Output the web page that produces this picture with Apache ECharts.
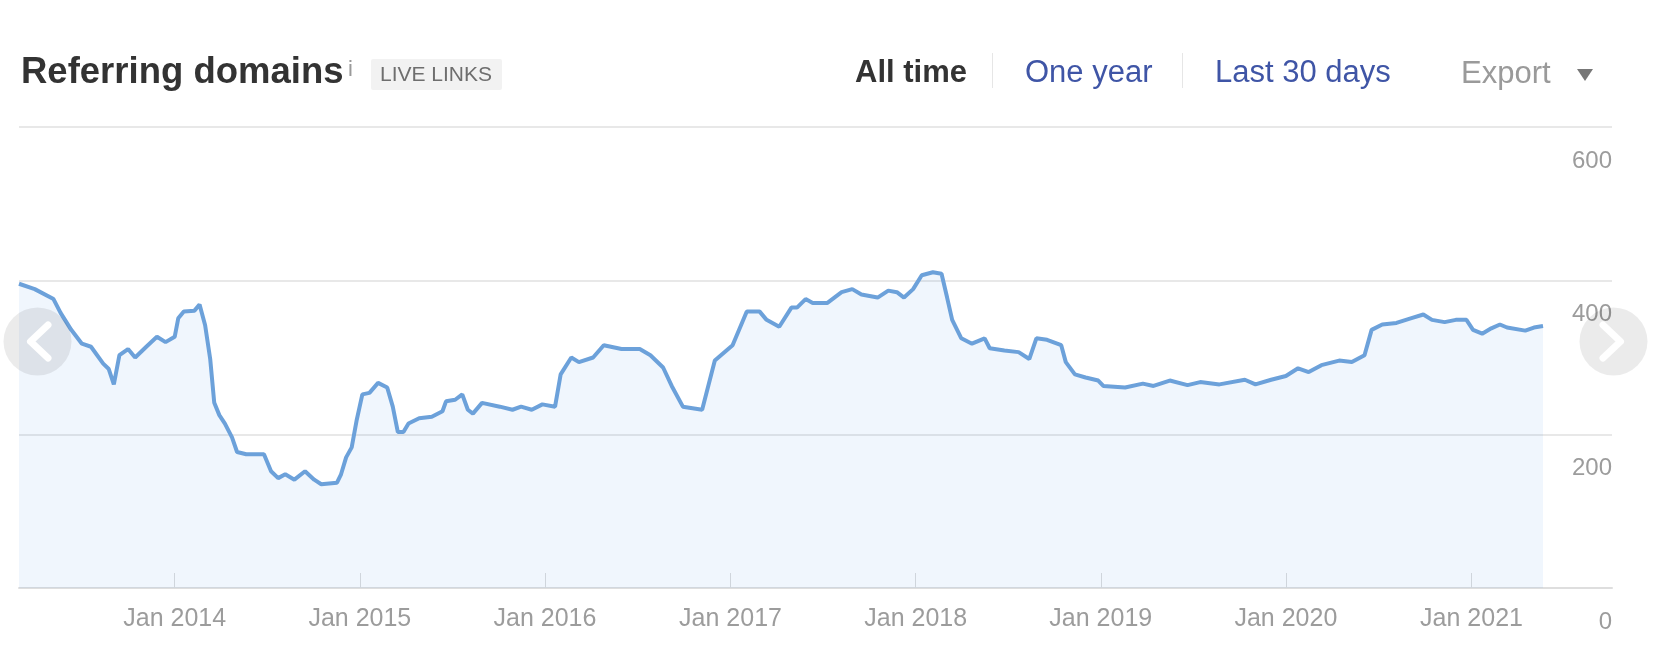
<!DOCTYPE html>
<html>
<head>
<meta charset="utf-8">
<script src="https://cdn.jsdelivr.net/npm/echarts@6/dist/echarts.min.js"></script>
<style>
html,body{margin:0;padding:0;background:#ffffff;}
#chart{width:1662px;height:666px;}
</style>
</head>
<body>
<div id="chart"></div>
<script>
// ---- data ----
const dates = [
'2013-02-28','2013-03-31','2013-05-07','2013-05-21','2013-06-11','2013-07-02','2013-07-20','2013-08-13','2013-08-24','2013-09-03',
'2013-09-14','2013-10-01','2013-10-15','2013-11-06','2013-11-27','2013-12-14','2014-01-01','2014-01-08','2014-01-19','2014-02-09',
'2014-02-19','2014-03-02','2014-03-12','2014-03-20','2014-03-30','2014-04-10','2014-04-24','2014-05-04','2014-05-22','2014-06-26',
'2014-07-10','2014-07-24','2014-08-07','2014-08-25','2014-09-15','2014-10-03','2014-10-17','2014-11-17','2014-11-25','2014-12-05',
'2014-12-16','2014-12-26','2015-01-06','2015-01-20','2015-02-06','2015-02-24','2015-03-07','2015-03-17','2015-03-28','2015-04-07',
'2015-04-28','2015-05-23','2015-06-13','2015-06-20','2015-07-08','2015-07-22','2015-08-02','2015-08-12','2015-08-30','2015-10-04',
'2015-10-29','2015-11-15','2015-12-06','2015-12-27','2016-01-21','2016-02-01','2016-02-22','2016-03-08','2016-04-05','2016-04-26',
'2016-05-31','2016-07-06','2016-07-27','2016-08-21','2016-09-07','2016-09-29','2016-11-06','2016-12-01','2017-01-05','2017-02-02',
'2017-02-27','2017-03-13','2017-04-07','2017-05-01','2017-05-12','2017-05-29','2017-06-12','2017-07-11','2017-08-08','2017-08-29',
'2017-09-16','2017-10-18','2017-11-08','2017-11-25','2017-12-09','2017-12-27','2018-01-13','2018-02-04','2018-02-21','2018-03-04',
'2018-03-14','2018-04-01','2018-04-22','2018-05-17','2018-05-27','2018-06-25','2018-07-23','2018-08-13','2018-08-27','2018-09-17',
'2018-10-15','2018-10-24','2018-11-11','2018-12-02','2018-12-27','2019-01-06','2019-02-18','2019-03-25','2019-04-15','2019-05-17',
'2019-06-21','2019-07-16','2019-08-23','2019-10-12','2019-11-02','2019-12-03','2020-01-01','2020-01-25','2020-02-15','2020-03-11',
'2020-04-15','2020-05-10','2020-06-04','2020-06-18','2020-07-09','2020-08-06','2020-09-03','2020-09-28','2020-10-15','2020-11-09',
'2020-12-01','2020-12-22','2021-01-04','2021-01-22','2021-02-09','2021-02-26','2021-03-12','2021-04-17','2021-05-04','2021-05-22'
];
const referringDomains = [
396,389,376,358,336,318,314,292,285,265,
303,311,300,314,327,320,327,351,360,361,
369,342,298,241,225,214,196,177,174,174,
152,143,148,141,152,141,135,137,148,170,
183,219,252,254,267,261,236,203,203,214,
221,223,230,243,245,252,232,227,241,236,
232,236,232,239,236,278,300,294,300,316,
311,311,303,287,263,236,232,296,316,360,
360,349,340,365,365,376,371,371,385,389,
382,378,387,385,378,389,407,411,409,378,
349,325,318,325,312,309,307,298,325,323,
316,294,278,274,270,263,261,266,263,270,
264,268,265,271,265,271,276,286,281,290,
296,294,303,336,343,345,351,356,349,346,
349,349,336,331,338,343,339,335,339,341
];
const xTickDates = ['2014-01-01','2015-01-01','2016-01-01','2017-01-01','2018-01-01','2019-01-01','2020-01-01','2021-01-01'];
const xTickLabels = ['Jan 2014','Jan 2015','Jan 2016','Jan 2017','Jan 2018','Jan 2019','Jan 2020','Jan 2021'];
const xRange = ['2013-02-28','2021-10-05'];
const yTicks = [0, 200, 400, 600];

// ---- chart ----
const FONT = "'Liberation Sans', Arial, Helvetica, sans-serif";
const chart = echarts.init(document.getElementById('chart'), null, {renderer: 'canvas'});
const ts = s => echarts.time.parse(s).getTime();
const tickValues = xTickDates.map(ts);
const labelOf = {};
tickValues.forEach((v, i) => { labelOf[v] = xTickLabels[i]; });

const option = {
  backgroundColor: '#ffffff',
  animation: false,
  grid: {left: 19, right: 50, top: 127, bottom: 78, containLabel: false, outerBoundsMode: 'none'},
  xAxis: {
    type: 'value',
    min: ts(xRange[0]),
    max: ts(xRange[1]),
    axisLine: {show: true, lineStyle: {color: '#dedede', width: 2}},
    axisTick: {show: true, inside: true, length: 15, customValues: tickValues, lineStyle: {color: '#dcdcdc', width: 1}},
    axisLabel: {
      customValues: tickValues,
      formatter: v => labelOf[v] !== undefined ? labelOf[v] : '',
      color: '#9c9c9c', fontSize: 25, fontFamily: FONT, margin: 19, lineHeight: 25
    },
    splitLine: {show: false}
  },
  yAxis: {
    type: 'value',
    position: 'right',
    min: yTicks[0],
    max: yTicks[yTicks.length - 1],
    interval: 200,
    axisLine: {show: false},
    axisTick: {show: false},
    axisLabel: {
      inside: true, margin: 0, align: 'right', verticalAlign: 'top',
      lineHeight: 24, padding: [22, 0, 0, 0],
      color: '#9c9c9c', fontSize: 24, fontFamily: FONT
    },
    splitLine: {show: true, lineStyle: {color: '#e8e8e8', width: 2}}
  },
  series: [{
    type: 'line',
    data: dates.map((d, i) => [ts(d), referringDomains[i]]),
    showSymbol: false,
    smooth: false,
    lineStyle: {color: '#6ca1da', width: 4},
    itemStyle: {color: '#6ca1da'},
    areaStyle: {color: 'rgba(66,139,230,0.08)', opacity: 1}
  }],
  graphic: [
    {type: 'text', x: 21, y: 73, style: {text: 'Referring domains', fontSize: 36.5, fontWeight: 'bold', fontFamily: FONT, fill: '#333333', verticalAlign: 'middle'}},
    {type: 'text', x: 348, y: 70, style: {text: 'i', fontSize: 22, fontFamily: FONT, fill: '#9a9a9a', verticalAlign: 'middle'}},
    {type: 'rect', shape: {x: 371, y: 59, width: 131, height: 31, r: 2}, style: {fill: '#f2f2f2'}},
    {type: 'text', x: 436, y: 75, style: {text: 'LIVE LINKS', fontSize: 21, fontFamily: FONT, fill: '#6e6e6e', align: 'center', verticalAlign: 'middle'}},
    {type: 'text', x: 855, y: 73, style: {text: 'All time', fontSize: 31, fontWeight: 'bold', fontFamily: FONT, fill: '#333333', verticalAlign: 'middle'}},
    {type: 'line', shape: {x1: 992.5, y1: 53, x2: 992.5, y2: 88}, style: {stroke: '#e6e6e6', lineWidth: 1}},
    {type: 'text', x: 1025, y: 73, style: {text: 'One year', fontSize: 31, fontFamily: FONT, fill: '#3f55a6', verticalAlign: 'middle'}},
    {type: 'line', shape: {x1: 1182.5, y1: 53, x2: 1182.5, y2: 88}, style: {stroke: '#e6e6e6', lineWidth: 1}},
    {type: 'text', x: 1215, y: 73, style: {text: 'Last 30 days', fontSize: 31, fontFamily: FONT, fill: '#3f55a6', verticalAlign: 'middle'}},
    {type: 'text', x: 1461, y: 74, style: {text: 'Export', fontSize: 31, fontFamily: FONT, fill: '#9a9a9a', verticalAlign: 'middle'}},
    {type: 'polygon', shape: {points: [[1577, 69], [1593, 69], [1585, 81]]}, style: {fill: '#777777'}},
    {type: 'circle', z: 100, shape: {cx: 37.5, cy: 341.5, r: 34}, style: {fill: 'rgba(0,0,0,0.08)'}},
    {type: 'polyline', z: 101, shape: {points: [[48, 325], [30.5, 341.5], [48, 358]]}, style: {stroke: '#ffffff', lineWidth: 7, lineCap: 'round', lineJoin: 'round', fill: null}},
    {type: 'circle', z: 100, shape: {cx: 1613.5, cy: 341.5, r: 34}, style: {fill: 'rgba(0,0,0,0.08)'}},
    {type: 'polyline', z: 101, shape: {points: [[1603, 325], [1620.5, 341.5], [1603, 358]]}, style: {stroke: '#ffffff', lineWidth: 7, lineCap: 'round', lineJoin: 'round', fill: null}}
  ]
};
chart.setOption(option);
</script>
</body>
</html>
